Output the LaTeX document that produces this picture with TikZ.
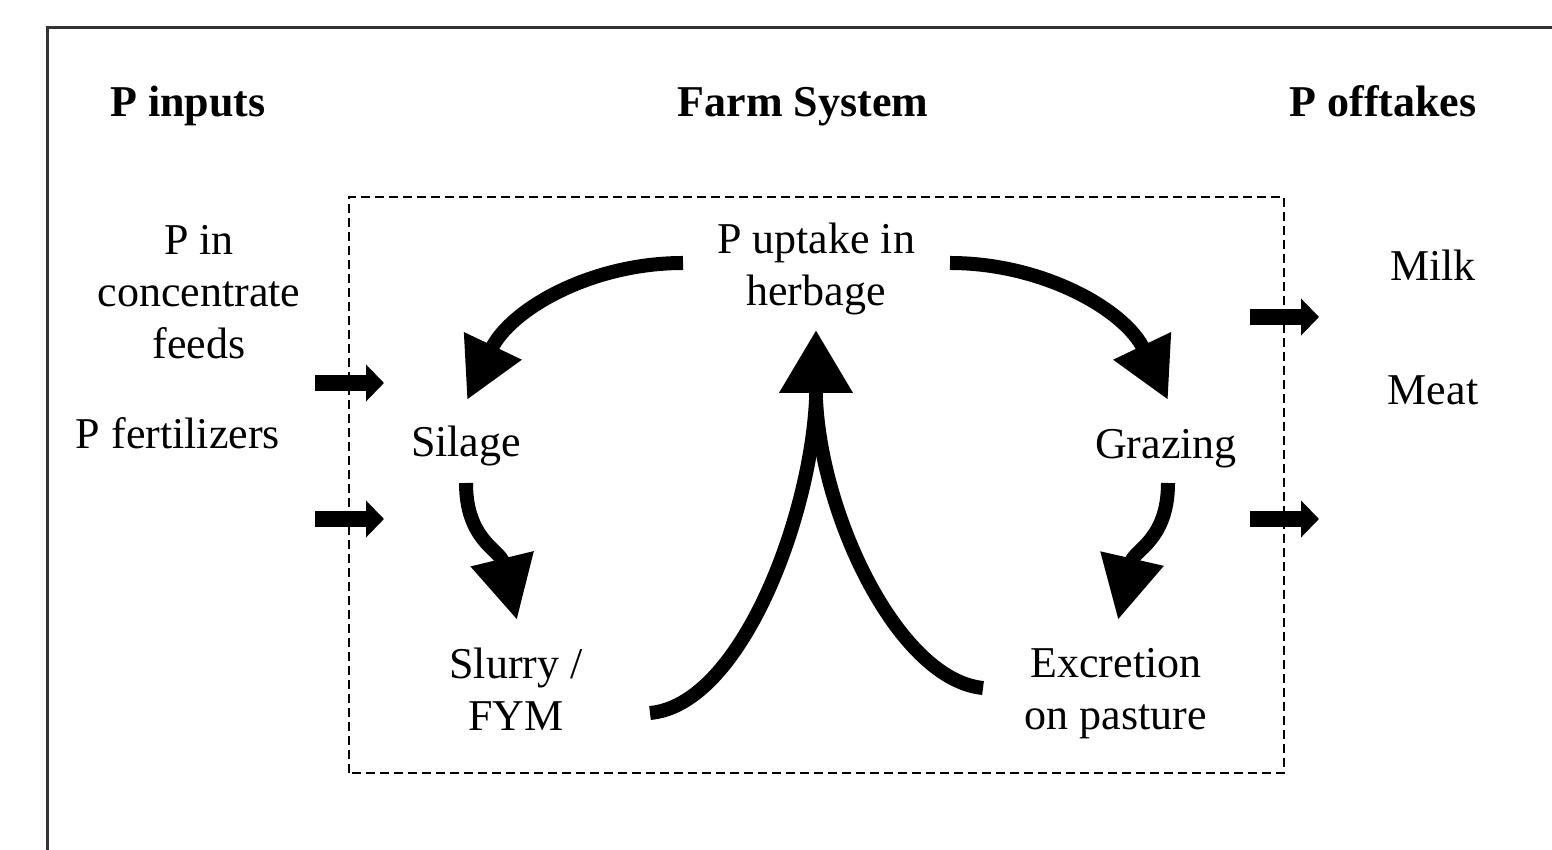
\documentclass[tikz,border=0pt]{standalone}
\usepackage{fontspec}
\setmainfont{Liberation Serif}
\usetikzlibrary{arrows.meta}
\tikzstyle{flowtxt}=[font=\fontsize{44}{52}\selectfont,align=center,inner sep=0pt]
\tikzstyle{headtxt}=[anchor=base,inner sep=0pt,font=\fontsize{44}{52}\selectfont\bfseries]
\tikzstyle{bigarrow}=[line width=14pt,-{Triangle[length=60pt,width=60pt]}]
\tikzstyle{blockarrow}=[line width=16pt,-{Triangle[length=18pt,width=36pt]}]
\begin{document}
\begin{tikzpicture}[x=1pt,y=1pt]
	\useasboundingbox (0,0) rectangle (1552,850);
	\draw[line width=3pt,black!80] (47,0) -- (47,822) -- (1552,822);
	\draw[line width=2.5pt,dash pattern=on 9pt off 5pt] (349,77) rectangle (1284,653);

		% headings
		\node[headtxt] (pin) at (188,733) {P inputs};
		\node[headtxt] (farm) at (803,733) {Farm System};
		\node[headtxt] (pout) at (1383,733) {P offtakes};

		% inputs and offtakes
		\node[flowtxt] (conc) at (199,558) {P in\\concentrate\\feeds};
		\node[flowtxt] (fert) at (178,417) {P fertilizers};
		\node[flowtxt] (milk) at (1433,585) {Milk};
		\node[flowtxt] (meat) at (1433,460) {Meat};

		% farm system
		\node[flowtxt] (uptake) at (816,581) {P uptake in\\herbage};
		\node[flowtxt] (silage) at (466,404) {Silage};
		\node[flowtxt] (grazing) at (1166,401) {Grazing};
		\node[flowtxt] (slurry) at (516,161) {Slurry /\\FYM};
		\node[flowtxt] (excr) at (1116,156) {Excretion\\on pasture};

		\foreach \n/\x/\y in {inA/315/467,inB/315/331,outA/1250/533,outB/1250/331}{
			\coordinate (\n) at (\x,\y);
			\draw[blockarrow] (\n) -- ++(69,0);}

		\coordinate (upL) at (683,587);
		\coordinate (upR) at (950,587);
		\coordinate (silTip) at (467,450);
		\coordinate (grzTip) at (1168,450);
		\draw[bigarrow] (upL) .. controls (590,587) and (510,540) .. (silTip);
		\draw[bigarrow] (upR) .. controls (1043,587) and (1125,540) .. (grzTip);

		\coordinate (silOut) at (466,367);
		\coordinate (grzOut) at (1168,367);
		\coordinate (slTip) at (517,230);
		\coordinate (exTip) at (1118,230);
		\draw[bigarrow,-{Triangle[length=63pt,width=61pt]}] (silOut) .. controls (466,310) and (500,300) .. (slTip);
		\draw[bigarrow,-{Triangle[length=63pt,width=61pt]}] (grzOut) .. controls (1168,310) and (1134,300) .. (exTip);

		% return flows to herbage
		\coordinate (slEnd) at (650,137);
		\coordinate (exEnd) at (983,162);
		\coordinate (join) at (816,450);
		\coordinate (upTip) at (816,520);
		\draw[line width=14pt] (slEnd) .. controls (740,145) and (810,330) .. (join);
		\draw[line width=14pt] (exEnd) .. controls (900,170) and (822,330) .. (join);
		\draw[bigarrow,-{Triangle[length=63pt,width=70pt]}] (join) -- (upTip);
\end{tikzpicture}
\end{document}
